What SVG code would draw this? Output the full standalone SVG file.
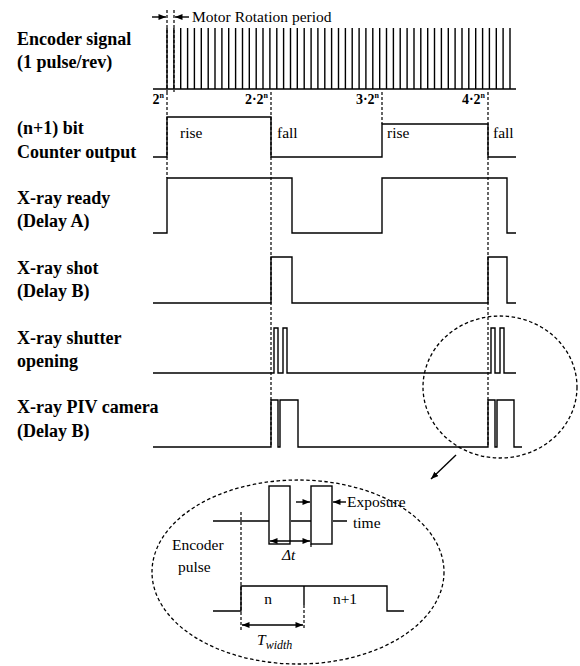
<svg xmlns="http://www.w3.org/2000/svg" width="580" height="666" viewBox="0 0 580 666">
<style>
.lbl{font-family:"Liberation Serif","Times New Roman",serif;font-weight:bold;font-size:18px;fill:#000}
.txt{font-family:"Liberation Serif","Times New Roman",serif;font-size:15.5px;fill:#000}
.tick{font-family:"Liberation Serif","Times New Roman",serif;font-weight:bold;font-size:14px;fill:#000}
.sig{fill:none;stroke:#000;stroke-width:1.4}
.dash{fill:none;stroke:#000;stroke-width:1.2;stroke-dasharray:3 2}
.dashc{fill:none;stroke:#000;stroke-width:1.3;stroke-dasharray:3.5 2.5}
.arr{fill:none;stroke:#000;stroke-width:1.4}
</style>
<defs>
<marker id="ah" viewBox="0 0 10 8" refX="10" refY="4" markerWidth="8" markerHeight="6" markerUnits="userSpaceOnUse" orient="auto-start-reverse">
<path d="M0,0 L10,4 L0,8 z" fill="#000"/>
</marker>
</defs>
<rect width="580" height="666" fill="#fff"/>

<g id="labels">
<text class="lbl" x="17" y="45">Encoder signal</text>
<text class="lbl" x="17" y="68">(1 pulse/rev)</text>
<text class="lbl" x="17" y="134">(n+1) bit</text>
<text class="lbl" x="17" y="158">Counter output</text>
<text class="lbl" x="17" y="204">X-ray ready</text>
<text class="lbl" x="17" y="227">(Delay A)</text>
<text class="lbl" x="17" y="274">X-ray shot</text>
<text class="lbl" x="17" y="297">(Delay B)</text>
<text class="lbl" x="17" y="344">X-ray shutter</text>
<text class="lbl" x="17" y="367">opening</text>
<text class="lbl" x="17" y="413">X-ray PIV camera</text>
<text class="lbl" x="17" y="437">(Delay B)</text>
</g>

<g id="motor-period">
<path class="dash" d="M167,10 V92 M174,10 V92"/>
<line class="arr" x1="152" y1="17" x2="166" y2="17" marker-end="url(#ah)"/>
<line class="arr" x1="189" y1="17" x2="175" y2="17" marker-end="url(#ah)"/>
<text class="txt" x="192" y="22" font-size="14.5">Motor Rotation period</text>
</g>

<g id="encoder-signal">
<path class="sig" stroke-width="1.3" d="M153,89 H516 M167,28V89 M173.9,28V89 M180.7,28V89 M187.6,28V89 M194.4,28V89 M201.3,28V89 M208.2,28V89 M215,28V89 M221.9,28V89 M228.7,28V89 M235.6,28V89 M242.5,28V89 M249.3,28V89 M256.2,28V89 M263,28V89 M269.9,28V89 M276.8,28V89 M283.6,28V89 M290.5,28V89 M297.3,28V89 M304.2,28V89 M311.1,28V89 M317.9,28V89 M324.8,28V89 M331.6,28V89 M338.5,28V89 M345.4,28V89 M352.2,28V89 M359.1,28V89 M365.9,28V89 M372.8,28V89 M379.7,28V89 M386.5,28V89 M393.4,28V89 M400.2,28V89 M407.1,28V89 M414,28V89 M420.8,28V89 M427.7,28V89 M434.5,28V89 M441.4,28V89 M448.3,28V89 M455.1,28V89 M462,28V89 M468.8,28V89 M475.7,28V89 M482.6,28V89 M489.4,28V89 M496.3,28V89 M503.1,28V89 M510,28V89"/>
<text class="tick" x="164" y="104" text-anchor="end">2<tspan font-size="8" dy="-6">n</tspan></text>
<text class="tick" x="268" y="104" text-anchor="end">2·2<tspan font-size="8" dy="-6">n</tspan></text>
<text class="tick" x="379" y="104" text-anchor="end">3·2<tspan font-size="8" dy="-6">n</tspan></text>
<text class="tick" x="485" y="104" text-anchor="end">4·2<tspan font-size="8" dy="-6">n</tspan></text>
</g>

<g id="connectors">
<path class="dash" d="M167,92 V178 M271,92 V447 M382,92 V124 M488,92 V447"/>
</g>

<g id="counter-output">
<path class="sig" d="M153,157 H167 V117 H271 V157 H382 V124 H488 V157 H516"/>
<text class="txt" x="180" y="138">rise</text>
<text class="txt" x="277" y="138">fall</text>
<text class="txt" x="387" y="138">rise</text>
<text class="txt" x="493" y="138">fall</text>
</g>

<g id="xray-ready">
<path class="sig" d="M153,233 H167 V178 H292 V233 H382 V178 H507 V233 H516"/>
</g>

<g id="xray-shot">
<path class="sig" d="M153,303 H271 V257 H292 V303 H488 V257 H507 V303 H516"/>
</g>

<g id="xray-shutter">
<path class="sig" d="M153,373 H274 V328 H278 V373 H283 V328 H287 V373 H491 V328 H495 V373 H500 V328 H504 V373 H516"/>
</g>

<g id="xray-piv-camera">
<path class="sig" d="M153,447 H271 V400 H278 V447 H280 V400 H298 V447 H488 V400 H495 V447 H497 V400 H514 V447 H522"/>
</g>

<g id="zoom-callout">
<ellipse class="dashc" cx="500" cy="387" rx="77" ry="71"/>
<line class="arr" x1="456" y1="455" x2="431" y2="479" marker-end="url(#ah)"/>
<ellipse class="dashc" cx="298" cy="572" rx="146" ry="92"/>
</g>

<g id="zoom-camera">
<path class="sig" d="M213,521 H269 M291,521 H311 M333,521 H347"/>
<rect class="sig" x="269" y="486" width="21" height="58"/>
<rect class="sig" x="311" y="486" width="21" height="58"/>
<line class="arr" x1="296" y1="502" x2="310" y2="502" marker-end="url(#ah)"/>
<line class="arr" x1="346" y1="502" x2="333" y2="502" marker-end="url(#ah)"/>
<text class="txt" x="347" y="507" font-size="16">Exposure</text>
<text class="txt" x="353" y="528" font-size="16">time</text>
<line class="arr" x1="270" y1="541" x2="310" y2="541" marker-start="url(#ah)" marker-end="url(#ah)"/>
<path class="dash" d="M311,544 V549"/>
<text class="txt" x="282" y="560" font-size="16" font-style="italic">Δt</text>
</g>

<g id="zoom-encoder">
<path class="dash" d="M241,512 V630 M304,605 V630"/>
<text class="txt" x="172" y="550" font-size="16">Encoder</text>
<text class="txt" x="178" y="572" font-size="16">pulse</text>
<path class="sig" d="M213,611 H241 V586 H387 V611 H404 M304,586 V605"/>
<text class="txt" x="268" y="604" font-size="16" text-anchor="middle">n</text>
<text class="txt" x="345" y="604" font-size="16" text-anchor="middle">n+1</text>
<line class="arr" x1="242" y1="625" x2="303" y2="625" marker-start="url(#ah)" marker-end="url(#ah)"/>
<text class="txt" x="257" y="645" font-size="18" font-style="italic">T<tspan font-size="12" dy="4">width</tspan></text>
</g>
</svg>
